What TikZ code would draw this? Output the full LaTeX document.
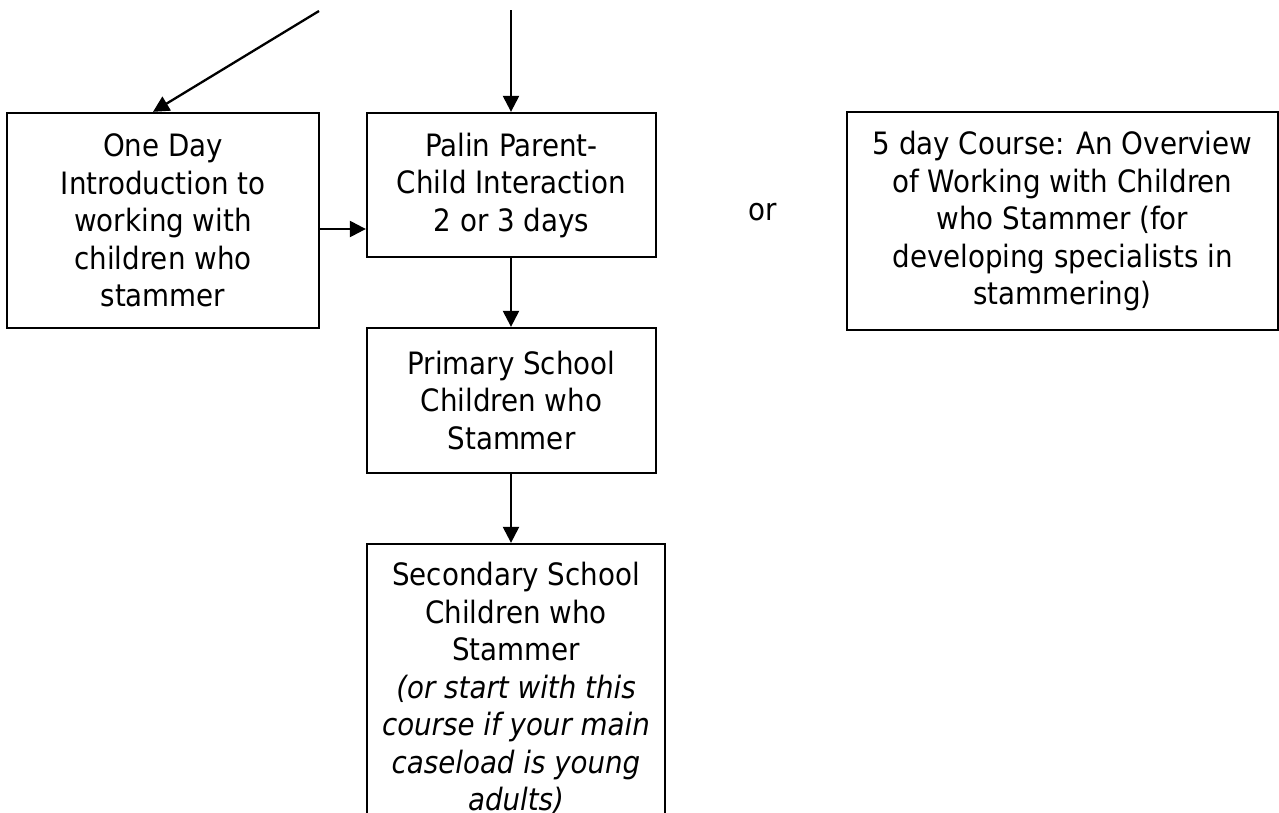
\documentclass[tikz,border=0pt]{standalone}
\usepackage{fontspec}
\setmainfont{DejaVu Sans Condensed}
\usetikzlibrary{arrows.meta}
\begin{document}
\begin{tikzpicture}[x=1pt,y=-1pt,
  boxnode/.style={draw,line width=2.3pt,inner sep=0pt,align=center,
    font=\fontsize{30.8}{37.5}\selectfont},
  plain/.style={inner sep=0pt,font=\fontsize{30.8}{37.5}\selectfont},
  arr/.style={line width=2.3pt,-{Triangle[length=16pt,width=16pt]}}]
\clip (0,0) rectangle (1279,812);
\useasboundingbox (0,0) rectangle (1279,812);
\node[boxnode,minimum width=312pt,minimum height=215pt] (oneday) at (163,220.5)
  {One Day\\Introduction to\\working with\\children who\\stammer};
\node[boxnode,minimum width=289pt,minimum height=144pt] (palin) at (511.5,185)
  {Palin Parent-\\Child Interaction\\2 or 3 days};
\node[boxnode,minimum width=431pt,minimum height=218pt] (five) at (1062.5,221)
  {5 day Course: An Overview\\of Working with Children\\who Stammer (for\\developing specialists in\\stammering)};
\node[boxnode,minimum width=289pt,minimum height=145pt] (primary) at (511.5,400.5)
  {Primary School\\Children who\\Stammer};
\node[boxnode,minimum width=298pt,minimum height=289pt] (secondary) at (516,688.5)
  {Secondary School\\Children who\\Stammer\\\textit{(or start with this}\\\textit{course if your main}\\\textit{caseload is young}\\\textit{adults)}};
\node[plain] (or) at (763,212) {or};
\coordinate (topA) at (319,11);
\coordinate (topB) at (511,10);
\coordinate (tipA) at (153,113);
\coordinate (hrow) at (0,229);
\draw[arr] (topA) -- (oneday.north -| tipA);
\draw[arr] (topB) -- (palin.north -| topB);
\draw[arr] (oneday.east |- hrow) -- (palin.west |- hrow);
\draw[arr] (palin.south -| topB) -- (primary.north -| topB);
\draw[arr] (primary.south -| topB) -- (secondary.north -| topB);
\end{tikzpicture}
\end{document}
